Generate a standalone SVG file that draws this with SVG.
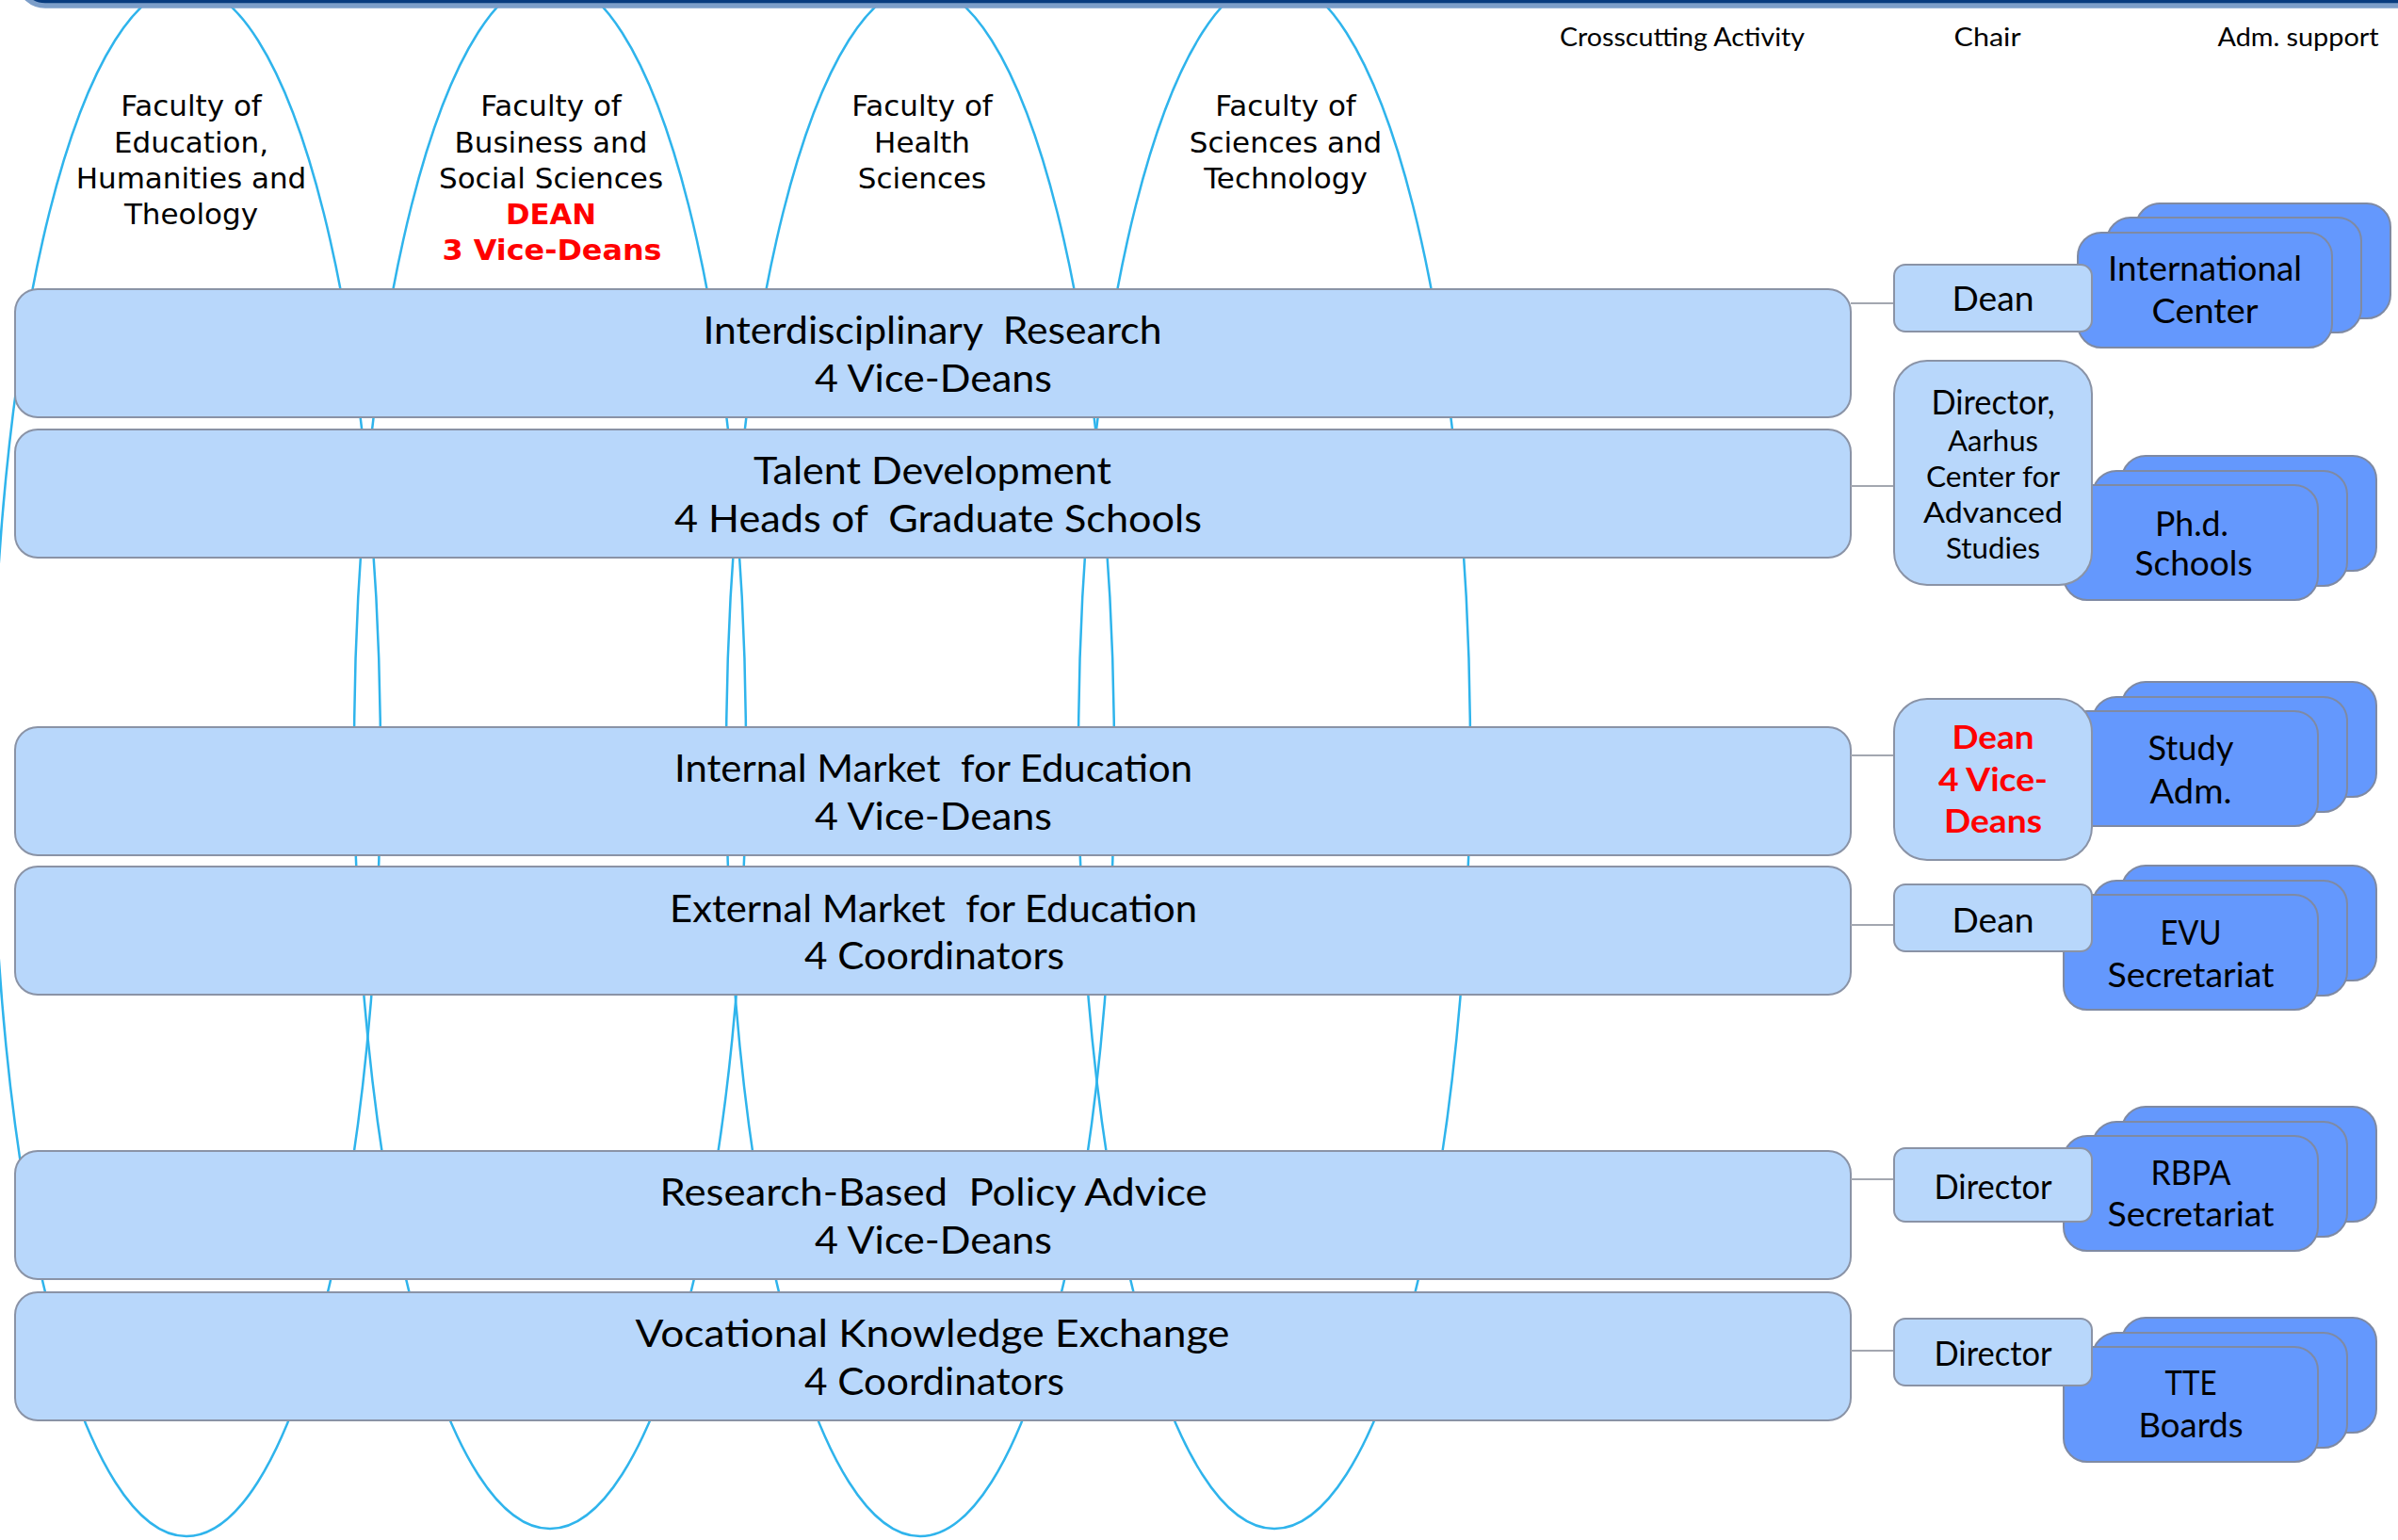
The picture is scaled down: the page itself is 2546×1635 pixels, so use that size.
<svg xmlns="http://www.w3.org/2000/svg" width="2546" height="1635" viewBox="0 0 2546 1635">
  <defs>
    <style>
      .faculty { fill: none; stroke: #2fb4ec; stroke-width: 2.5; }
      .ftxt { font-family: "DejaVu Sans", Verdana, sans-serif; font-size: 31px; fill: #000; text-anchor: middle; }
      .ftxt-red { font-family: "DejaVu Sans", Verdana, sans-serif; font-size: 31px; font-weight: bold; fill: #ff0000; text-anchor: middle; }
      .activity { fill: #b8d7fb; stroke: #8a93a6; stroke-width: 2; }
      .chair { fill: #b8d7fb; stroke: #8a93a6; stroke-width: 2; }
      .support { fill: #6498fd; stroke: #7f8aa3; stroke-width: 2; }
      .link { stroke: #a3a7b0; stroke-width: 2; fill: none; }
      .g { font-family: Lato, "DejaVu Sans", sans-serif; fill: #000; text-anchor: middle; }
      .big { font-size: 40px; }
      .mid { font-size: 36px; }
      .small { font-size: 30px; }
      .head { font-size: 27px; }
      .red { fill: #ff0000; font-weight: bold; font-size: 35px; }
    </style>
  </defs>

  <rect width="2546" height="1635" fill="#ffffff"/>

  <!-- faculty ellipses -->
  <g id="faculties">
    <ellipse class="faculty" cx="198" cy="808" rx="206" ry="823"/>
    <ellipse class="faculty" cx="584" cy="800" rx="208" ry="823"/>
    <ellipse class="faculty" cx="977" cy="808" rx="206" ry="823"/>
    <ellipse class="faculty" cx="1353" cy="800" rx="208" ry="823"/>
  </g>

  <!-- top banner -->
  <rect x="22" y="-40" width="2600" height="46" rx="26" fill="#073b7e" stroke="#7c9ec9" stroke-width="5.5"/>

  <g id="faculty-education">
    <text class="ftxt" x="203" y="123">Faculty of</text>
    <text class="ftxt" x="203" y="162">Education,</text>
    <text class="ftxt" x="203" y="200">Humanities and</text>
    <text class="ftxt" x="203" y="238">Theology</text>
  </g>
  <g id="faculty-business">
    <text class="ftxt" x="585" y="123">Faculty of</text>
    <text class="ftxt" x="585" y="162">Business and</text>
    <text class="ftxt" x="585" y="200">Social Sciences</text>
    <text class="ftxt-red" x="585" y="238" textLength="96" lengthAdjust="spacingAndGlyphs">DEAN</text>
    <text class="ftxt-red" x="586" y="276" textLength="233" lengthAdjust="spacingAndGlyphs">3 Vice-Deans</text>
  </g>
  <g id="faculty-health">
    <text class="ftxt" x="979" y="123">Faculty of</text>
    <text class="ftxt" x="979" y="162">Health</text>
    <text class="ftxt" x="979" y="200">Sciences</text>
  </g>
  <g id="faculty-science">
    <text class="ftxt" x="1365" y="123">Faculty of</text>
    <text class="ftxt" x="1365" y="162">Sciences and</text>
    <text class="ftxt" x="1365" y="200">Technology</text>
  </g>

  <!-- column headings -->
  <g id="headings">
    <text class="g head" x="1786" y="49" textLength="260" lengthAdjust="spacingAndGlyphs">Crosscutting Activity</text>
    <text class="g head" x="2110" y="49" textLength="71" lengthAdjust="spacingAndGlyphs">Chair</text>
    <text class="g head" x="2440" y="49" textLength="171" lengthAdjust="spacingAndGlyphs">Adm. support</text>
  </g>

  <!-- crosscutting activities -->
  <g id="act-research">
    <rect class="activity" x="16" y="307" width="1949" height="136" rx="24"/>
    <text class="g big" x="990" y="365" xml:space="preserve" textLength="487" lengthAdjust="spacingAndGlyphs">Interdisciplinary  Research</text>
    <text class="g big" x="991" y="416" textLength="252" lengthAdjust="spacingAndGlyphs">4 Vice-Deans</text>
  </g>
  <g id="act-talent">
    <rect class="activity" x="16" y="456" width="1949" height="136" rx="24"/>
    <text class="g big" x="990" y="514" textLength="380" lengthAdjust="spacingAndGlyphs">Talent Development</text>
    <text class="g big" x="996" y="565" xml:space="preserve" textLength="560" lengthAdjust="spacingAndGlyphs">4 Heads of  Graduate Schools</text>
  </g>
  <g id="act-internal">
    <rect class="activity" x="16" y="772" width="1949" height="136" rx="24"/>
    <text class="g big" x="991" y="830" xml:space="preserve" textLength="550" lengthAdjust="spacingAndGlyphs">Internal Market  for Education</text>
    <text class="g big" x="991" y="881" textLength="252" lengthAdjust="spacingAndGlyphs">4 Vice-Deans</text>
  </g>
  <g id="act-external">
    <rect class="activity" x="16" y="920" width="1949" height="136" rx="24"/>
    <text class="g big" x="991" y="979" xml:space="preserve" textLength="560" lengthAdjust="spacingAndGlyphs">External Market  for Education</text>
    <text class="g big" x="992" y="1029" textLength="276" lengthAdjust="spacingAndGlyphs">4 Coordinators</text>
  </g>
  <g id="act-policy">
    <rect class="activity" x="16" y="1222" width="1949" height="136" rx="24"/>
    <text class="g big" x="991" y="1280" xml:space="preserve" textLength="581" lengthAdjust="spacingAndGlyphs">Research-Based  Policy Advice</text>
    <text class="g big" x="991" y="1331" textLength="252" lengthAdjust="spacingAndGlyphs">4 Vice-Deans</text>
  </g>
  <g id="act-vocational">
    <rect class="activity" x="16" y="1372" width="1949" height="136" rx="24"/>
    <text class="g big" x="990" y="1430" textLength="631" lengthAdjust="spacingAndGlyphs">Vocational Knowledge Exchange</text>
    <text class="g big" x="992" y="1481" textLength="276" lengthAdjust="spacingAndGlyphs">4 Coordinators</text>
  </g>

  <!-- links from activities to chairs -->
  <g id="connectors">
    <line class="link" x1="1965" y1="322" x2="2011" y2="322"/>
    <line class="link" x1="1965" y1="516" x2="2011" y2="516"/>
    <line class="link" x1="1965" y1="802" x2="2011" y2="802"/>
    <line class="link" x1="1965" y1="982" x2="2011" y2="982"/>
    <line class="link" x1="1965" y1="1252" x2="2011" y2="1252"/>
    <line class="link" x1="1965" y1="1434" x2="2011" y2="1434"/>
  </g>

  <!-- administrative support stacks -->
  <g id="sup-international">
    <rect class="support" x="2268" y="216" width="270" height="122" rx="25"/>
    <rect class="support" x="2237" y="231" width="270" height="122" rx="25"/>
    <rect class="support" x="2206" y="247" width="270" height="122" rx="25"/>
    <text class="g mid" x="2341" y="298" textLength="206" lengthAdjust="spacingAndGlyphs">International</text>
    <text class="g mid" x="2341" y="343" textLength="113" lengthAdjust="spacingAndGlyphs">Center</text>
  </g>
  <g id="sup-phd">
    <rect class="support" x="2253" y="484" width="270" height="122" rx="25"/>
    <rect class="support" x="2222" y="500" width="270" height="122" rx="25"/>
    <rect class="support" x="2191" y="515" width="270" height="122" rx="25"/>
    <text class="g mid" x="2327" y="569" textLength="78" lengthAdjust="spacingAndGlyphs">Ph.d.</text>
    <text class="g mid" x="2329" y="611" textLength="125" lengthAdjust="spacingAndGlyphs">Schools</text>
  </g>
  <g id="sup-study">
    <rect class="support" x="2253" y="724" width="270" height="122" rx="25"/>
    <rect class="support" x="2222" y="740" width="270" height="122" rx="25"/>
    <rect class="support" x="2191" y="755" width="270" height="122" rx="25"/>
    <text class="g mid" x="2326" y="807" textLength="91" lengthAdjust="spacingAndGlyphs">Study</text>
    <text class="g mid" x="2326" y="853" textLength="87" lengthAdjust="spacingAndGlyphs">Adm.</text>
  </g>
  <g id="sup-evu">
    <rect class="support" x="2253" y="919" width="270" height="122" rx="25"/>
    <rect class="support" x="2222" y="935" width="270" height="122" rx="25"/>
    <rect class="support" x="2191" y="950" width="270" height="122" rx="25"/>
    <text class="g mid" x="2326" y="1003" textLength="65" lengthAdjust="spacingAndGlyphs">EVU</text>
    <text class="g mid" x="2326" y="1048" textLength="177" lengthAdjust="spacingAndGlyphs">Secretariat</text>
  </g>
  <g id="sup-rbpa">
    <rect class="support" x="2253" y="1175" width="270" height="122" rx="25"/>
    <rect class="support" x="2222" y="1191" width="270" height="122" rx="25"/>
    <rect class="support" x="2191" y="1206" width="270" height="122" rx="25"/>
    <text class="g mid" x="2326" y="1258" textLength="85" lengthAdjust="spacingAndGlyphs">RBPA</text>
    <text class="g mid" x="2326" y="1302" textLength="177" lengthAdjust="spacingAndGlyphs">Secretariat</text>
  </g>
  <g id="sup-tte">
    <rect class="support" x="2253" y="1399" width="270" height="122" rx="25"/>
    <rect class="support" x="2222" y="1415" width="270" height="122" rx="25"/>
    <rect class="support" x="2191" y="1430" width="270" height="122" rx="25"/>
    <text class="g mid" x="2326" y="1481" textLength="55" lengthAdjust="spacingAndGlyphs">TTE</text>
    <text class="g mid" x="2326" y="1526" textLength="111" lengthAdjust="spacingAndGlyphs">Boards</text>
  </g>

  <!-- chairs -->
  <g id="chair-research">
    <rect class="chair" x="2011" y="281" width="210" height="71" rx="12"/>
    <text class="g mid" x="2116" y="330" textLength="87" lengthAdjust="spacingAndGlyphs">Dean</text>
  </g>
  <g id="chair-talent">
    <rect class="chair" x="2011" y="383" width="210" height="238" rx="35"/>
    <text class="g mid" x="2116" y="440" textLength="131" lengthAdjust="spacingAndGlyphs">Director,</text>
    <text class="g small" x="2116" y="479" textLength="96" lengthAdjust="spacingAndGlyphs">Aarhus</text>
    <text class="g small" x="2116" y="517" textLength="142" lengthAdjust="spacingAndGlyphs">Center for</text>
    <text class="g small" x="2116" y="555" textLength="148" lengthAdjust="spacingAndGlyphs">Advanced</text>
    <text class="g small" x="2116" y="593" textLength="100" lengthAdjust="spacingAndGlyphs">Studies</text>
  </g>
  <g id="chair-internal">
    <rect class="chair" x="2011" y="742" width="210" height="171" rx="35"/>
    <text class="g red" x="2116" y="795" textLength="87" lengthAdjust="spacingAndGlyphs">Dean</text>
    <text class="g red" x="2116" y="840" textLength="116" lengthAdjust="spacingAndGlyphs">4 Vice-</text>
    <text class="g red" x="2116" y="884" textLength="104" lengthAdjust="spacingAndGlyphs">Deans</text>
  </g>
  <g id="chair-external">
    <rect class="chair" x="2011" y="939" width="210" height="71" rx="12"/>
    <text class="g mid" x="2116" y="990" textLength="87" lengthAdjust="spacingAndGlyphs">Dean</text>
  </g>
  <g id="chair-policy">
    <rect class="chair" x="2011" y="1219" width="210" height="78" rx="12"/>
    <text class="g mid" x="2116" y="1273" textLength="125" lengthAdjust="spacingAndGlyphs">Director</text>
  </g>
  <g id="chair-vocational">
    <rect class="chair" x="2011" y="1400" width="210" height="71" rx="12"/>
    <text class="g mid" x="2116" y="1450" textLength="125" lengthAdjust="spacingAndGlyphs">Director</text>
  </g>
</svg>
